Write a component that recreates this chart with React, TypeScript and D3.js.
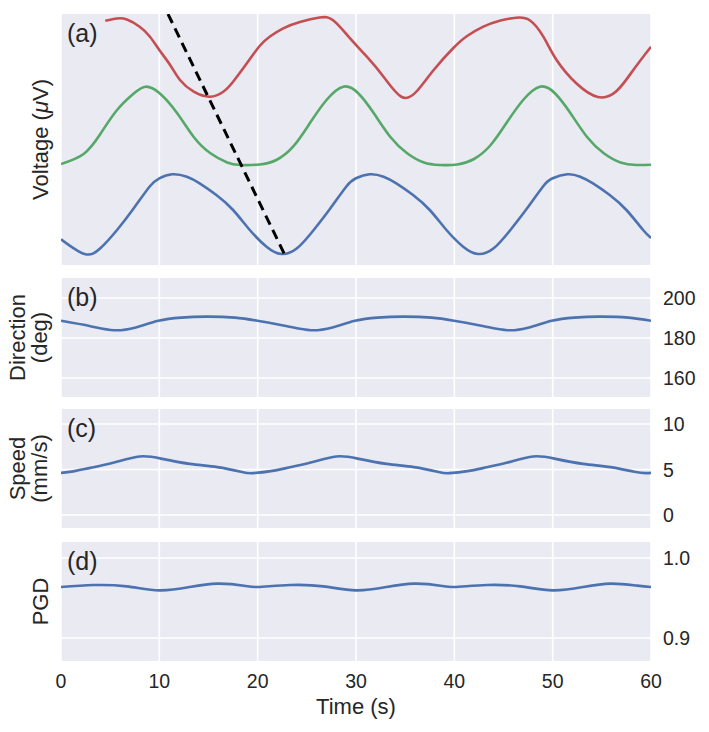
import React from "react";
import * as d3 from "d3";

// ---- Data ----
const blueT = [0, 2.4, 4, 5.7, 7.4, 9, 10, 11.3, 12.8, 14.1, 15.8, 17.5, 19.2, 20.9, 22.4, 24, 25.7, 27.4, 29, 30, 31.4, 32.8, 34.1, 35.8, 37.5, 39.2, 40.9, 42.4, 44, 45.7, 47.4, 49, 50, 51.5, 52.8, 54.1, 55.8, 57.5, 59.2, 60];
const blueV = [25.7, 11, 16.7, 35, 56.7, 78.3, 86.7, 90.7, 88.3, 81.7, 70, 55, 35, 18.3, 11, 16.7, 35, 56.7, 78.3, 86.7, 90.7, 88.3, 81.7, 70, 55, 35, 18.3, 11, 16.7, 35, 56.7, 78.3, 86.7, 90.7, 88.3, 81.7, 70, 55, 35, 27];

const greenT = [0, 2.3, 4, 5.7, 7.4, 8.6, 10, 11.8, 13.5, 15.2, 16.9, 18.2, 20.2, 21.9, 23.6, 25.3, 27, 28.7, 30.2, 31.8, 33.5, 35.2, 36.9, 38.5, 40.3, 42, 43.7, 45.3, 47, 48.7, 50.2, 51.8, 53.5, 55.2, 56.9, 58.5, 60];
const greenV = [101, 111, 131, 155, 171.5, 178.3, 172, 152, 128, 111.7, 102.5, 100, 100.5, 105, 118.3, 141.7, 165, 178.3, 172, 152, 128, 111.7, 102.5, 100, 100.5, 106, 120, 142, 165, 178.3, 172, 152, 128, 111.7, 102.5, 100, 100.3];

const redT = [4.5, 5.7, 6.7, 8, 9.05, 10, 11.1, 12.1, 13.5, 15.15, 16.5, 17.5, 18.9, 20.2, 21.25, 22.6, 24.3, 26.3, 27.7, 29.4, 31.1, 32.8, 34.65, 36.2, 37.9, 39.9, 41.3, 42.95, 44.6, 46.3, 47.7, 49.05, 50.4, 52.4, 54.6, 56.5, 58.2, 60];
const redV = [244.3, 246.5, 245.5, 238.3, 228.3, 215, 200, 185, 173.3, 168.3, 173.3, 183.3, 201.7, 219, 228.5, 236.7, 243, 247.5, 244.5, 226.7, 208.3, 188.3, 168, 174, 195, 217, 229, 238.3, 244.3, 247.3, 244.5, 228.3, 205, 181.7, 168, 174, 195, 218.3];

const dashT = [10.88, 22.85];
const dashV = [251, 8.3];

const dirT = [0, 3, 5.4, 7.6, 9.9, 12.2, 14.8, 17.7, 20, 23, 25.4, 27.6, 29.9, 32.2, 34.8, 37.7, 40, 43, 45.4, 47.6, 49.9, 52.2, 54.8, 57.7, 60];
const dirV = [188.6, 185.9, 183.9, 185.3, 188.6, 190.2, 190.7, 190.2, 188.6, 185.9, 183.9, 185.3, 188.6, 190.2, 190.7, 190.2, 188.6, 185.9, 183.9, 185.3, 188.6, 190.2, 190.7, 190.2, 188.6];

const spdT = [0, 1.5, 3, 5.3, 8, 10.3, 13.1, 15.9, 18.3, 19.5, 21.5, 23, 25.3, 28, 30.3, 33.1, 35.9, 38.3, 39.5, 41.5, 43, 45.3, 48, 50.3, 53.1, 55.9, 58.3, 59.5, 60];
const spdV = [4.63, 4.85, 5.18, 5.73, 6.43, 6.17, 5.62, 5.26, 4.75, 4.6, 4.85, 5.18, 5.73, 6.43, 6.17, 5.62, 5.26, 4.75, 4.6, 4.85, 5.18, 5.73, 6.43, 6.17, 5.62, 5.26, 4.75, 4.6, 4.63];

const pgdT = [0, 3.3, 6.7, 10, 13.1, 15.9, 18.6, 20, 23.3, 26.7, 30, 33.1, 35.9, 38.6, 40, 43.3, 46.7, 50, 53.1, 55.9, 58.6, 60];
const pgdV = [0.9638, 0.9663, 0.9646, 0.9596, 0.9638, 0.968, 0.9655, 0.9638, 0.9663, 0.9646, 0.9596, 0.9638, 0.968, 0.9655, 0.9638, 0.9663, 0.9646, 0.9596, 0.9638, 0.968, 0.9655, 0.9638];

const xTicks = [0, 10, 20, 30, 40, 50, 60];
const dirTicks = [160, 180, 200];
const spdTicks = [0, 5, 10];
const pgdTicks = [0.9, 1.0];

const C_BLUE = "#4C72B0";
const C_GREEN = "#55A868";
const C_RED = "#C44E52";
const BG = "#EAEAF2";
const TXT = "#262626";
const FONT = "'Liberation Sans', Arial, sans-serif";

const X0 = 61;
const X1 = 651;
const x = d3.scaleLinear().domain([0, 60]).range([X0, X1]);

type Panel = {
  id: string;
  top: number;
  bottom: number;
  domain: [number, number];
  ticks: number[];
  fmt: (v: number) => string;
  label: string[];
};

const panels: Panel[] = [
  { id: "a", top: 14, bottom: 265, domain: [0, 251], ticks: [], fmt: String, label: [] },
  { id: "b", top: 278, bottom: 397, domain: [150.5, 210], ticks: dirTicks, fmt: (v) => String(v), label: ["Direction", "(deg)"] },
  { id: "c", top: 409, bottom: 528, domain: [-1.43, 11.65], ticks: spdTicks, fmt: (v) => String(v), label: ["Speed", "(mm/s)"] },
  { id: "d", top: 542, bottom: 661, domain: [0.8713, 1.0201], ticks: pgdTicks, fmt: (v) => v.toFixed(1), label: ["PGD"] },
];

function mkLine(ts: number[], vs: number[], y: d3.ScaleLinear<number, number>) {
  const pts = ts.map((t, i) => [t, vs[i]] as [number, number]);
  return d3
    .line<[number, number]>()
    .x((d) => x(d[0]))
    .y((d) => y(d[1]))
    .curve(d3.curveNatural)(pts) as string;
}

export default function App() {
  const ys = panels.map((p) => d3.scaleLinear().domain(p.domain).range([p.bottom, p.top]));
  const [ya, yb, yc, yd] = ys;
  const LFS = 22;
  const TFS = 19.5;

  return (
    <svg width={709} height={732} style={{ position: "absolute", left: 0, top: 0, background: "#fff" }} fontFamily={FONT}>
      <defs>
        {panels.map((p) => (
          <clipPath id={"clip-" + p.id} key={p.id}>
            <rect x={X0} y={p.top} width={X1 - X0} height={p.bottom - p.top} />
          </clipPath>
        ))}
      </defs>
      {panels.map((p, i) => (
        <g key={p.id}>
          <rect x={X0} y={p.top} width={X1 - X0} height={p.bottom - p.top} fill={BG} />
          {xTicks.map((t) => (
            <line key={"vx" + t} x1={x(t)} x2={x(t)} y1={p.top} y2={p.bottom} stroke="#fff" strokeWidth={1.6} />
          ))}
          {p.ticks.map((v) => (
            <line key={"hy" + v} x1={X0} x2={X1} y1={ys[i](v)} y2={ys[i](v)} stroke="#fff" strokeWidth={1.6} />
          ))}
          {p.ticks.map((v) => (
            <text key={"tl" + v} x={663} y={ys[i](v) + 7} fontSize={TFS} fill={TXT}>
              {p.fmt(v)}
            </text>
          ))}
          <text x={67} y={p.top + 28} fontSize={25} fill={TXT}>
            ({p.id})
          </text>
        </g>
      ))}

      {/* Panel a */}
      <g clipPath="url(#clip-a)">
        <path d={mkLine(redT, redV, ya)} fill="none" stroke={C_RED} strokeWidth={2.6} />
        <path d={mkLine(greenT, greenV, ya)} fill="none" stroke={C_GREEN} strokeWidth={2.6} />
        <path d={mkLine(blueT, blueV, ya)} fill="none" stroke={C_BLUE} strokeWidth={2.6} />
        <line
          x1={x(dashT[0])}
          y1={ya(dashV[0])}
          x2={x(dashT[1])}
          y2={ya(dashV[1])}
          stroke="#000"
          strokeWidth={3}
          strokeDasharray="10,6"
        />
      </g>
      <text transform={`translate(48,${(14 + 265) / 2}) rotate(-90)`} textAnchor="middle" fontSize={LFS} fill={TXT}>
        Voltage (<tspan fontStyle="italic">μ</tspan>V)
      </text>

      {/* Panel b */}
      <g clipPath="url(#clip-b)">
        <path d={mkLine(dirT, dirV, yb)} fill="none" stroke={C_BLUE} strokeWidth={2.6} />
      </g>
      {/* Panel c */}
      <g clipPath="url(#clip-c)">
        <path d={mkLine(spdT, spdV, yc)} fill="none" stroke={C_BLUE} strokeWidth={2.6} />
      </g>
      {/* Panel d */}
      <g clipPath="url(#clip-d)">
        <path d={mkLine(pgdT, pgdV, yd)} fill="none" stroke={C_BLUE} strokeWidth={2.6} />
      </g>

      {panels.slice(1).map((p) => {
        const cy = (p.top + p.bottom) / 2;
        if (p.label.length === 1) {
          return (
            <text key={"yl" + p.id} transform={`translate(48,${cy}) rotate(-90)`} textAnchor="middle" fontSize={LFS} fill={TXT}>
              {p.label[0]}
            </text>
          );
        }
        return (
          <g key={"yl" + p.id}>
            <text transform={`translate(25,${cy}) rotate(-90)`} textAnchor="middle" fontSize={LFS} fill={TXT}>
              {p.label[0]}
            </text>
            <text transform={`translate(47,${cy}) rotate(-90)`} textAnchor="middle" fontSize={LFS} fill={TXT}>
              {p.label[1]}
            </text>
          </g>
        );
      })}

      {xTicks.map((t) => (
        <text key={"xt" + t} x={x(t)} y={688} textAnchor="middle" fontSize={TFS} fill={TXT}>
          {t}
        </text>
      ))}
      <text x={(X0 + X1) / 2} y={714} textAnchor="middle" fontSize={LFS} fill={TXT}>
        Time (s)
      </text>
    </svg>
  );
}
